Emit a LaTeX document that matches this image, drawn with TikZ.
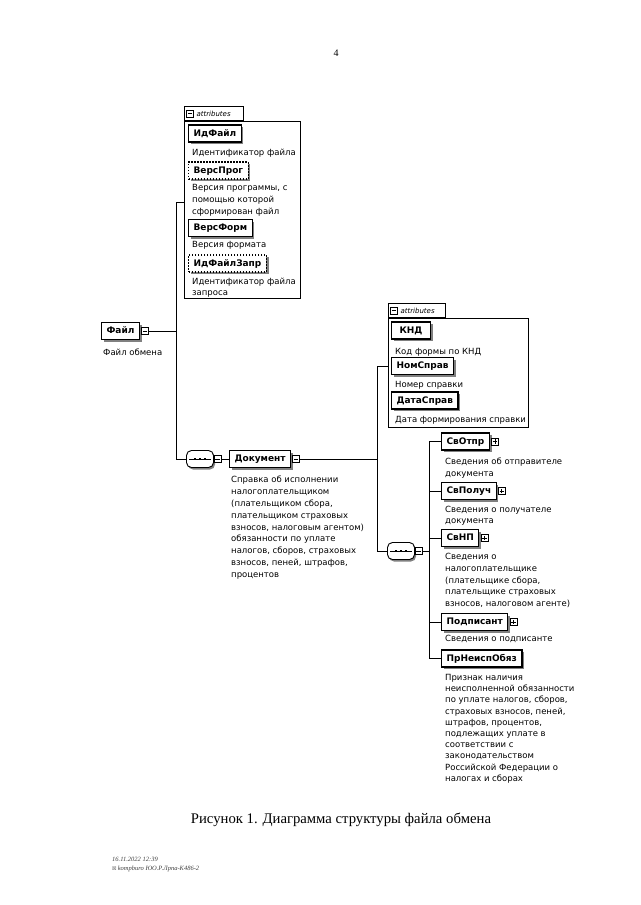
\documentclass[tikz,border=0pt]{standalone}
\usepackage{fontspec}
\setmainfont{Liberation Serif}
\newfontfamily\djv{DejaVu Sans}
\usetikzlibrary{shadows,calc}
\tikzset{
  conn/.style={line width=0.9pt},
  elem/.style={draw, line width=1.1pt, fill=white, anchor=west, minimum height=17pt,
    inner xsep=5pt, inner ysep=0pt, text height=6.6pt, text depth=1.6pt,
    font=\djv\bfseries\fontsize{9}{10}\selectfont,
    drop shadow={shadow xshift=2.2pt, shadow yshift=-2.2pt, fill=black!50, opacity=1}},
  optelem/.style={elem, dash pattern=on 1.6pt off 1.4pt},
  desc/.style={anchor=north west, inner sep=0pt, align=left, font=\djv\fontsize{8.5}{11.8}\selectfont},
  iconbase/.style={draw, fill=white, line width=0.6pt, minimum size=7pt, inner sep=0pt},
  minusbox/.style={iconbase, path picture={\draw[line width=0.7pt] ([xshift=1.3pt]path picture bounding box.west) -- ([xshift=-1.3pt]path picture bounding box.east);}},
  plusbox/.style={iconbase, path picture={\draw[line width=0.7pt] ([xshift=1.3pt]path picture bounding box.west) -- ([xshift=-1.3pt]path picture bounding box.east); \draw[line width=0.7pt] ([yshift=-1.3pt]path picture bounding box.north) -- ([yshift=1.3pt]path picture bounding box.south);}},
  seq/.style={draw, fill=white, line width=0.9pt, rounded corners=5pt, minimum width=27pt, minimum height=17pt, inner sep=0pt,
    drop shadow={shadow xshift=1.5pt, shadow yshift=-2pt, fill=black!50, opacity=1}},
  seqline/.style={line width=0.7pt},
  seqdot/.style={fill=black},
  attrbox/.style={draw, line width=0.8pt, fill=white, anchor=north west, inner sep=0pt},
  attrtab/.style={draw, line width=0.8pt, fill=white, anchor=south west, minimum height=14pt, inner sep=0pt},
  tabtext/.style={anchor=west, inner sep=0pt, font=\djv\itshape\fontsize{7}{8}\selectfont},
  foot/.style={anchor=base west, inner sep=0pt, text=black!75, font=\itshape\fontsize{6.5}{7}\selectfont}
}
\begin{document}
\begin{tikzpicture}[x=1pt,y=-1pt]
\useasboundingbox (0,0) rectangle (640,905);
\fill[white] (0,0) rectangle (640,905);

\node[font=\fontsize{10}{12}\selectfont] (pg) at (336,53) {4};

% ---------- attributes of Файл
\node[attrbox, minimum width=116pt, minimum height=177pt] (a1) at (184,121) {};
\node[attrtab, minimum width=59pt] (a1t) at (a1.north west) {};
\node[minusbox] (a1m) at ($(a1t.west)+(6,0)$) {};
\node[tabtext] (a1tx) at ($(a1m.east)+(2.5,0)$) {attributes};

\node[elem] (idf) at (188,133.5) {ИдФайл};
\node[desc] (idfd) at (192,149) {Идентификатор файла};
\node[optelem] (vp) at (188,170.5) {ВерсПрог};
\node[desc] (vpd) at (192,184) {Версия программы, с\\помощью которой\\сформирован файл};
\node[elem] (vf) at (188,228) {ВерсФорм};
\node[desc] (vfd) at (192,241.5) {Версия формата};
\node[optelem] (idz) at (188,263.5) {ИдФайлЗапр};
\node[desc] (idzd) at (192,277.5) {Идентификатор файла\\запроса};

% ---------- Файл
\node[elem] (fl) at (101,331) {Файл};
\node[minusbox] (flm) at ($(fl.east)+(5,0)$) {};
\node[desc] (fld) at (103,348.5) {Файл обмена};

\coordinate (v1t) at (176,202.5);
\coordinate (v1m) at (176,331);
\coordinate (v1b) at (176,459);
\draw[conn] (flm.east) -- (v1m);
\draw[conn] (v1t) -- (v1b);
\draw[conn] (v1t) -- (a1.west |- v1t);

\node[seq] (s1) at (200,459) {};
\draw[conn] (v1b) -- (s1.west);
\node[minusbox] (s1m) at ($(s1.east)+(3.5,0)$) {};

% ---------- Документ
\node[elem] (doc) at (229,459) {Документ};
\draw[conn] (s1m.east) -- (doc.west);
\node[minusbox] (docm) at ($(doc.east)+(5,0)$) {};
\node[desc] (docd) at (231,476) {Справка об исполнении\\налогоплательщиком\\(плательщиком сбора,\\плательщиком страховых\\взносов, налоговым агентом)\\обязанности по уплате\\налогов, сборов, страховых\\взносов, пеней, штрафов,\\процентов};

% ---------- attributes of Документ
\node[attrbox, minimum width=140pt, minimum height=109pt] (a2) at (388,318) {};
\node[attrtab, minimum width=57pt] (a2t) at (a2.north west) {};
\node[minusbox] (a2m) at ($(a2t.west)+(6,0)$) {};
\node[tabtext] (a2tx) at ($(a2m.east)+(2.5,0)$) {attributes};

\node[elem, minimum width=39pt] (knd) at (391,330.5) {КНД};
\node[desc] (kndd) at (395,348.5) {Код формы по КНД};
\node[elem] (nom) at (391,366) {НомСправ};
\node[desc] (nomd) at (395,381.5) {Номер справки};
\node[elem] (dat) at (391,400.5) {ДатаСправ};
\node[desc] (datd) at (395,416) {Дата формирования справки};

\coordinate (v2t) at (377,366);
\coordinate (v2m) at (377,459);
\coordinate (v2b) at (377,551);
\draw[conn] (docm.east) -- (v2m);
\draw[conn] (v2t) -- (v2b);
\draw[conn] (v2t) -- (a2.west |- v2t);

\node[seq] (s2) at (401,551) {};
\draw[conn] (v2b) -- (s2.west);
\node[minusbox] (s2m) at ($(s2.east)+(3.5,0)$) {};
\coordinate (v3m) at (429,551);
\draw[conn] (s2m.east) -- (v3m);

% sequence symbols
\foreach \s in {s1,s2} {
  \draw[seqline] ($(\s.west)+(3,0)$) -- ($(\s.east)+(-3,0)$);
  \foreach \dx in {-5,0,5} \fill[seqdot] ($(\s.center)+(\dx-1.2,-1.2)$) rectangle ++(2.4,2.4);
}

% ---------- children of Документ
\node[elem] (otp) at (441,441.5) {СвОтпр};
\node[plusbox] (otpp) at ($(otp.east)+(5,0)$) {};
\node[desc] (otpd) at (445,458) {Сведения об отправителе\\документа};

\node[elem] (pol) at (441,491) {СвПолуч};
\node[plusbox] (polp) at ($(pol.east)+(5,0)$) {};
\node[desc] (pold) at (445,505.5) {Сведения о получателе\\документа};

\node[elem] (snp) at (441,538) {СвНП};
\node[plusbox] (snpp) at ($(snp.east)+(5,0)$) {};
\node[desc] (snpd) at (445,553) {Сведения о\\налогоплательщике\\(плательщике сбора,\\плательщике страховых\\взносов, налоговом агенте)};

\node[elem] (pod) at (441,622) {Подписант};
\node[plusbox] (podp) at ($(pod.east)+(5,0)$) {};
\node[desc] (podd) at (445,634.5) {Сведения о подписанте};

\node[elem] (prn) at (441,658.5) {ПрНеиспОбяз};
\node[desc, font=\djv\fontsize{8.5}{11.2}\selectfont] (prnd) at (445,674) {Признак наличия\\неисполненной обязанности\\по уплате налогов, сборов,\\страховых взносов, пеней,\\штрафов, процентов,\\подлежащих уплате в\\соответствии с\\законодательством\\Российской Федерации о\\налогах и сборах};

\draw[conn] (v3m |- otp.west) -- (v3m |- prn.west);
\foreach \n in {otp,pol,snp,pod,prn} \draw[conn] (v3m |- \n.west) -- (\n.west);

% ---------- caption and footer
\node[font=\fontsize{14.7}{16}\selectfont] (cap) at (341,820) {Рисунок 1. Диаграмма структуры файла обмена};
\node[foot] (f1) at (112,861) {16.11.2022 12:39};
\node[foot] (f2) at (112,870) {{\djv\upshape\fontsize{5}{6}\selectfont ☒}\,kompburo ЮО.Р.Лрпа-К486-2};
\end{tikzpicture}
\end{document}
